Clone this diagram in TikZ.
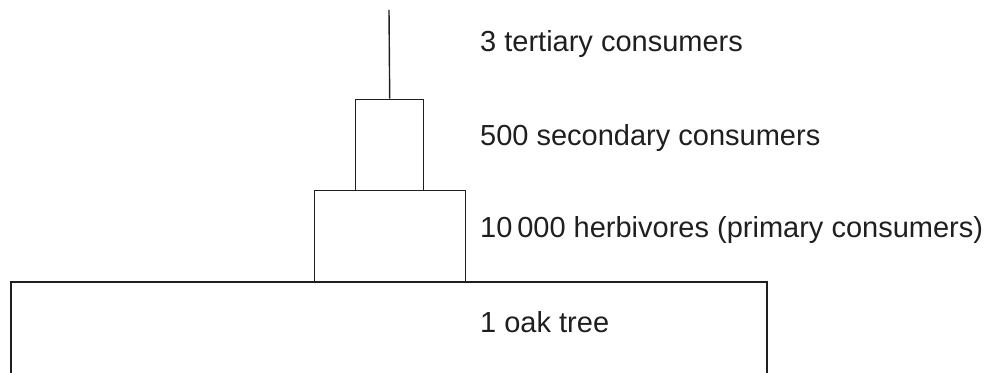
\documentclass[tikz,border=0pt]{standalone}
\usepackage{fontspec}
\setmainfont{Liberation Sans}
\begin{document}
\begin{tikzpicture}[x=1pt,y=1pt,
  bar/.style={draw=black!88, line width=1.4pt},
  lbl/.style={anchor=base west, inner sep=0pt, font=\fontsize{29}{34}\selectfont, text=black!88}]
\useasboundingbox (0,0) rectangle (995,372);
% y_tikz = 372 - y_img
\coordinate (top) at (389,362);
\node[bar, minimum width=0pt, inner sep=0pt, anchor=south west, minimum width=68, minimum height=91] (sec) at (355,181) {};
\node[bar, inner sep=0pt, anchor=south west, minimum width=151, minimum height=91] (herb) at (314,90) {};
\draw[bar] (11,-2) -- (11,90) -- (767,90) -- (767,-2);
\coordinate (oakL) at (11,90);
\draw[bar] (top) -- (sec.north);
\node[lbl] (t3) at (480,320) {3 tertiary consumers};
\node[lbl] (t2) at (480,226) {500 secondary consumers};
\node[lbl] (t1) at (480,134) {10\,000 herbivores (primary consumers)};
\node[lbl] (t0) at (480,39) {1 oak tree};
\end{tikzpicture}
\end{document}
